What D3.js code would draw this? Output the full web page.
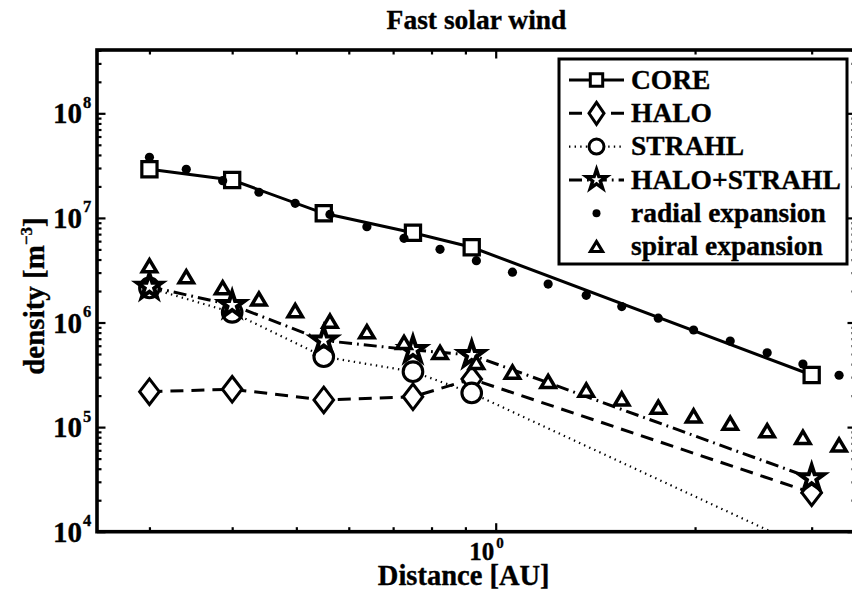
<!DOCTYPE html>
<html>
<head>
<meta charset="utf-8">
<script src="https://cdn.jsdelivr.net/npm/d3@7"></script>
<style>
  html, body { margin: 0; padding: 0; background: #fff; }
  svg { display: block; }
  text { font-family: "Liberation Serif", "Times New Roman", serif; font-weight: bold; fill: #000; stroke: #000; stroke-width: 0.35px; }
</style>
</head>
<body>
<script>
// ---------------- DATA ----------------
const titleText = "Fast solar wind";
const xLabelText = "Distance [AU]";
const yLabelMain = "density [m";
const yLabelSup = "\u22123";

// distance bins of the fitted components (AU)
const binDistance = [0.3, 0.4, 0.55, 0.75, 0.92, 3.0];
const coreDensity = [2.92e7, 2.30e7, 1.107e7, 7.22e6, 5.24e6, 3.15e5];
const haloDensity = [2.18e5, 2.30e5, 1.82e5, 1.95e5, 2.88e5, 2.36e4];
const strahlDensity = [2.14e6, 1.25e6, 4.71e5, 3.39e5, 2.12e5, 6.6e3];
const haloStrahlDensity = [2.20e6, 1.47e6, 6.73e5, 5.46e5, 4.89e5, 3.24e4];

// expansion model curves
const expansionDistance = [0.300, 0.341, 0.387, 0.439, 0.498, 0.562, 0.639, 0.727, 0.824, 0.935,
                           1.06, 1.20, 1.37, 1.55, 1.76, 1.99, 2.26, 2.57, 2.91, 3.30];
const radialExpansion = [3.80e7, 2.92e7, 2.27e7, 1.76e7, 1.38e7, 1.08e7, 8.24e6, 6.38e6, 5.01e6, 3.90e6,
                         3.03e6, 2.33e6, 1.82e6, 1.42e6, 1.10e6, 8.48e5, 6.65e5, 5.14e5, 4.01e5, 3.13e5];
const spiralExpansion = [3.49e6, 2.74e6, 2.15e6, 1.68e6, 1.30e6, 1.03e6, 8.17e5, 6.44e5, 5.17e5, 4.15e5,
                         3.36e5, 2.73e5, 2.26e5, 1.86e5, 1.55e5, 1.28e5, 1.09e5, 9.24e4, 7.99e4, 6.74e4];

const legendLabels = ["CORE", "HALO", "STRAHL", "HALO+STRAHL", "radial expansion", "spiral expansion"];

const xMinorTicks = [0.3, 0.4, 0.5, 0.6, 0.7, 0.8, 0.9, 2, 3];
const xMajorTicks = [1];
const xMajorExponents = ["0"];
const yMajorTicks = [1e4, 1e5, 1e6, 1e7, 1e8];
const yMajorExponents = ["4", "5", "6", "7", "8"];

// ---------------- LAYOUT ----------------
const W = 852, H = 602;
const L = 97, R = 856, T = 50, B = 531.7;

const svg = d3.select("body").append("svg").attr("width", W).attr("height", H);
svg.append("rect").attr("width", W).attr("height", H).attr("fill", "#fff");

const x = d3.scaleLog().domain([0.25, 3.5]).range([L, R]);
const y = d3.scaleLog().domain([1e4, 4.03e8]).range([B, T]);

svg.append("defs").append("clipPath").attr("id", "plotclip")
  .append("rect").attr("x", L).attr("y", T).attr("width", R - L).attr("height", B - T);

// ---------------- AXES ----------------
function styleAxis(g) {
  g.select(".domain").remove();
  g.selectAll(".tick line").attr("stroke", "#000").attr("stroke-width", 2.2);
  g.selectAll(".tick text").remove();
}
const yMinorTicks = y.ticks().filter(v => Math.abs(Math.log10(v) - Math.round(Math.log10(v))) > 1e-6);

svg.append("g").attr("transform", `translate(0,${B})`)
  .call(d3.axisBottom(x).tickValues(xMinorTicks).tickSize(-4.5).tickFormat("")).call(styleAxis);
svg.append("g").attr("transform", `translate(0,${B})`)
  .call(d3.axisBottom(x).tickValues(xMajorTicks).tickSize(-8.5).tickFormat("")).call(styleAxis);
svg.append("g").attr("transform", `translate(0,${T})`)
  .call(d3.axisTop(x).tickValues(xMinorTicks).tickSize(-4.5).tickFormat("")).call(styleAxis);
svg.append("g").attr("transform", `translate(0,${T})`)
  .call(d3.axisTop(x).tickValues(xMajorTicks).tickSize(-8.5).tickFormat("")).call(styleAxis);

svg.append("g").attr("transform", `translate(${L},0)`)
  .call(d3.axisLeft(y).tickValues(yMinorTicks).tickSize(-4.5).tickFormat("")).call(styleAxis);
svg.append("g").attr("transform", `translate(${L},0)`)
  .call(d3.axisLeft(y).tickValues(yMajorTicks).tickSize(-8.5).tickFormat("")).call(styleAxis);
svg.append("g").attr("transform", `translate(${R},0)`)
  .call(d3.axisRight(y).tickValues(yMinorTicks).tickSize(-4.5).tickFormat("")).call(styleAxis);
svg.append("g").attr("transform", `translate(${R},0)`)
  .call(d3.axisRight(y).tickValues(yMajorTicks).tickSize(-8.5).tickFormat("")).call(styleAxis);

svg.append("rect").attr("x", L).attr("y", T).attr("width", R - L).attr("height", B - T)
  .attr("fill", "none").attr("stroke", "#000").attr("stroke-width", 3.6);

// y tick labels
yMajorTicks.forEach((v, i) => {
  const ty = y(v);
  svg.append("text").attr("x", 82).attr("y", ty + 10).attr("text-anchor", "end")
    .style("font-size", "29px").text("10");
  svg.append("text").attr("x", 83).attr("y", ty - 5.5)
    .style("font-size", "16.5px").text(yMajorExponents[i]);
});
// x tick labels
xMajorTicks.forEach((v, i) => {
  const tx = x(v);
  svg.append("text").attr("x", tx - 1.5).attr("y", 560).attr("text-anchor", "end")
    .style("font-size", "25px").text("10");
  svg.append("text").attr("x", tx + 0.5).attr("y", 547.5)
    .style("font-size", "15px").text(xMajorExponents[i]);
});

// titles
svg.append("text").attr("x", 476.5).attr("y", 29.3).attr("text-anchor", "middle")
  .style("font-size", "27.5px").text(titleText);
svg.append("text").attr("x", 463.7).attr("y", 585).attr("text-anchor", "middle")
  .style("font-size", "28.5px").text(xLabelText);
const yl = svg.append("text").attr("transform", "translate(43.5,296) rotate(-90)")
  .attr("text-anchor", "middle").style("font-size", "29px");
yl.append("tspan").text(yLabelMain);
yl.append("tspan").attr("dy", -12).style("font-size", "17px").text(yLabelSup);
yl.append("tspan").attr("dy", 12).text("]");

// ---------------- MARKERS ----------------
function squarePath(s) { return `M${-s},${-s}H${s}V${s}H${-s}Z`; }
function diamondPath(w, h) { return `M0,${-h}L${w},0L0,${h}L${-w},0Z`; }
function trianglePath(w, h) { return `M0,${-h}L${w},${h}L${-w},${h}Z`; }
function starPath(Rr) {
  const r = Rr * 0.382;
  let p = "";
  for (let k = 0; k < 10; k++) {
    const a = -Math.PI / 2 + k * Math.PI / 5;
    const rad = k % 2 === 0 ? Rr : r;
    p += (k === 0 ? "M" : "L") + (rad * Math.cos(a)).toFixed(2) + "," + (rad * Math.sin(a)).toFixed(2);
  }
  return p + "Z";
}

const styles = {
  core:   { dash: null,           width: 3 },
  halo:   { dash: "13,8",         width: 3 },
  strahl: { dash: "1.4,4.2",      width: 2.2 },
  hs:     { dash: "13,5,1.8,5",   width: 3 }
};

const plot = svg.append("g");
const linesG = plot.append("g").attr("clip-path", "url(#plotclip)");
const marksG = plot.append("g");

function drawSeries(xs, ys, st, markerPath, strokeW) {
  const pts = xs.map((d, i) => ({ d, v: ys[i] }));
  const line = d3.line().x(p => x(p.d)).y(p => y(p.v));
  const path = linesG.append("path").attr("d", line(pts)).attr("fill", "none")
    .attr("stroke", "#000").attr("stroke-width", st.width);
  if (st.dash) path.attr("stroke-dasharray", st.dash);
  marksG.selectAll(null).data(pts.filter(p => p.v >= y.domain()[0])).enter().append("path")
    .attr("d", markerPath).attr("transform", p => `translate(${x(p.d)},${y(p.v)})`)
    .attr("fill", "#fff").attr("stroke", "#000").attr("stroke-width", strokeW)
    .attr("stroke-linejoin", "miter");
}

drawSeries(binDistance, coreDensity, styles.core, squarePath(7.6), 3.2);
drawSeries(binDistance, haloDensity, styles.halo, diamondPath(9.8, 12.8), 3);
drawSeries(binDistance, strahlDensity, styles.strahl, "M-9.8,0A9.8,9.8 0 1,0 9.8,0A9.8,9.8 0 1,0 -9.8,0Z", 3.1);
drawSeries(binDistance, haloStrahlDensity, styles.hs, starPath(13), 4);

// radial expansion dots
marksG.selectAll(null).data(expansionDistance.map((d, i) => ({ d, v: radialExpansion[i] })))
  .enter().append("circle").attr("cx", p => x(p.d)).attr("cy", p => y(p.v)).attr("r", 4.6).attr("fill", "#000");
// spiral expansion triangles
marksG.selectAll(null).data(expansionDistance.map((d, i) => ({ d, v: spiralExpansion[i] })))
  .enter().append("path").attr("d", trianglePath(7.2, 6.1))
  .attr("transform", p => `translate(${x(p.d)},${y(p.v)})`)
  .attr("fill", "#fff").attr("stroke", "#000").attr("stroke-width", 3.5);

// ---------------- LEGEND ----------------
const lg = svg.append("g");
lg.append("rect").attr("x", 559).attr("y", 59).attr("width", 288).attr("height", 205)
  .attr("fill", "#fff").attr("stroke", "#000").attr("stroke-width", 3);
const rowY0 = 80, rowStep = 33.3, mx = 596.5, lx1 = 569, lx2 = 624, tx = 631;
const legendMarkers = [
  { st: styles.core,   path: squarePath(6.2), sw: 3 },
  { st: styles.halo,   path: diamondPath(7.5, 11), sw: 3 },
  { st: styles.strahl, path: "M-7.5,0A7.5,7.5 0 1,0 7.5,0A7.5,7.5 0 1,0 -7.5,0Z", sw: 3 },
  { st: styles.hs,     path: starPath(10.5), sw: 3.4 },
  { st: null, dot: true },
  { st: null, path: trianglePath(6, 5), sw: 3.2 }
];
legendLabels.forEach((lab, i) => {
  const cy = rowY0 + i * rowStep;
  const m = legendMarkers[i];
  if (m.st) {
    const ln = lg.append("line").attr("x1", lx1).attr("x2", lx2).attr("y1", cy).attr("y2", cy)
      .attr("stroke", "#000").attr("stroke-width", m.st.width);
    if (m.st.dash) ln.attr("stroke-dasharray", m.st.dash);
  }
  if (m.dot) {
    lg.append("circle").attr("cx", mx).attr("cy", cy).attr("r", 4).attr("fill", "#000");
  } else {
    lg.append("path").attr("d", m.path).attr("transform", `translate(${mx},${cy})`)
      .attr("fill", "#fff").attr("stroke", "#000").attr("stroke-width", m.sw);
  }
  lg.append("text").attr("x", tx).attr("y", cy + 8.6).style("font-size", "27.5px").text(lab);
});
</script>
</body>
</html>
